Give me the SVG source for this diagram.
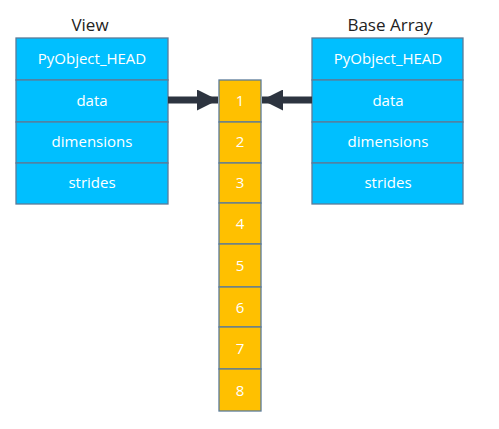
<svg xmlns="http://www.w3.org/2000/svg" width="499" height="429" viewBox="0 0 499 429">
<defs>
<style>
.f{fill:#00BFFF;stroke:#5B7B99;stroke-width:1.3}
.a{fill:#FFC000;stroke:#5B7B99;stroke-width:1.3}
.t{font-family:"Open Sans","Noto Sans",sans-serif;font-size:15px;fill:#ffffff;text-anchor:middle}
.h{font-family:"Open Sans","Noto Sans",sans-serif;font-size:17px;fill:#222222;text-anchor:middle}
.c{stroke:#2D3440;stroke-width:7;fill:none}
</style>
<marker id="ah" viewBox="0 0 10 10" refX="10" refY="5" markerWidth="3.6" markerHeight="3" markerUnits="strokeWidth" orient="auto">
<path d="M0,0 L10,5 L0,10 Z" fill="#2D3440"/>
</marker>
</defs>
<rect width="499" height="429" fill="#ffffff"/>
<g id="view">
<text class="h" x="90" y="31">View</text>
<rect class="f" x="16" y="38" width="152" height="42"/>
<rect class="f" x="16" y="80" width="152" height="42"/>
<rect class="f" x="16" y="122" width="152" height="41"/>
<rect class="f" x="16" y="163" width="152" height="41"/>
<text class="t" x="92" y="64">PyObject_HEAD</text>
<text class="t" x="92" y="106">data</text>
<text class="t" x="92" y="147">dimensions</text>
<text class="t" x="92" y="188">strides</text>
</g>
<g id="base">
<text class="h" x="390" y="31">Base Array</text>
<rect class="f" x="312" y="38" width="151" height="42"/>
<rect class="f" x="312" y="80" width="151" height="42"/>
<rect class="f" x="312" y="122" width="151" height="41"/>
<rect class="f" x="312" y="163" width="151" height="41"/>
<text class="t" x="388" y="64">PyObject_HEAD</text>
<text class="t" x="388" y="106">data</text>
<text class="t" x="388" y="147">dimensions</text>
<text class="t" x="388" y="188">strides</text>
</g>
<g id="array">
<rect class="a" x="219" y="80" width="42" height="42"/>
<rect class="a" x="219" y="122" width="42" height="41"/>
<rect class="a" x="219" y="163" width="42" height="40"/>
<rect class="a" x="219" y="203" width="42" height="41"/>
<rect class="a" x="219" y="244" width="42" height="43"/>
<rect class="a" x="219" y="287" width="42" height="40"/>
<rect class="a" x="219" y="327" width="42" height="42"/>
<rect class="a" x="219" y="369" width="42" height="42"/>
<text class="t" x="240" y="106">1</text>
<text class="t" x="240" y="147">2</text>
<text class="t" x="240" y="188">3</text>
<text class="t" x="240" y="229">4</text>
<text class="t" x="240" y="271">5</text>
<text class="t" x="240" y="313">6</text>
<text class="t" x="240" y="354">7</text>
<text class="t" x="240" y="396">8</text>
</g>
<g id="connectors">
<line class="c" x1="168" y1="100" x2="218" y2="100" marker-end="url(#ah)"/>
<line class="c" x1="312" y1="100" x2="262" y2="100" marker-end="url(#ah)"/>
</g>
</svg>
